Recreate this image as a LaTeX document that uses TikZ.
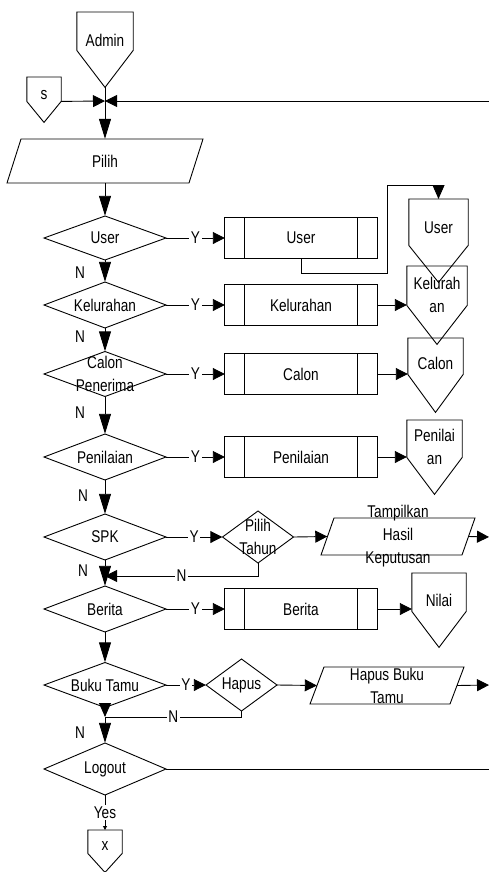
\documentclass[tikz,border=0pt]{standalone}
\usepackage{fontspec}
\setmainfont[FakeStretch=0.8]{Liberation Sans}
\usetikzlibrary{arrows.meta,calc}

% off-page connector: name, centre x, top y, width, box height, tip depth
\newcommand\opgconn[6]{%
  \node[box, minimum width=#4pt, minimum height=#5pt, anchor=north] (#1) at (#2,#3) {};
  \coordinate (#1-tip) at ($(#1.south)+(0,#6)$);
  \draw[ln] (#1.north west) -- (#1.north east) -- (#1.south east) -- (#1-tip) -- (#1.south west) -- cycle;
}
% decision: name, centre x, centre y, width, height, text
\newcommand\decide[6]{%
  \node[box, minimum width=#4pt, minimum height=#5pt, align=center] (#1) at (#2,#3) {#6};
  \draw[ln] ({#2},{#3-#5/2}) -- ({#2+#4/2},{#3}) -- ({#2},{#3+#5/2}) -- ({#2-#4/2},{#3}) -- cycle;
}
% predefined process: name, centre x, centre y, width, height, text
\newcommand\proc[6]{%
  \node[box, minimum width=#4pt, minimum height=#5pt] (#1) at (#2,#3) {#6};
  \draw[ln] (#1.north west) rectangle (#1.south east);
  \draw[ln] ($(#1.north west)+(20,0)$) -- ($(#1.south west)+(20,0)$);
  \draw[ln] ($(#1.north east)+(-20,0)$) -- ($(#1.south east)+(-20,0)$);
}
% input/output: name, centre x, centre y, mid width, height, half slant, text
\newcommand\dataio[7]{%
  \node[box, minimum width=#4pt, minimum height=#5pt, align=center] (#1) at (#2,#3) {#7};
  \draw[ln] ({#2-#4/2+#6},{#3-#5/2}) -- ({#2+#4/2+#6},{#3-#5/2}) -- ({#2+#4/2-#6},{#3+#5/2}) -- ({#2-#4/2-#6},{#3+#5/2}) -- cycle;
}

\begin{document}
\begin{tikzpicture}[x=1pt,y=-1pt,
  every node/.style={font=\fontsize{17}{23}\selectfont, inner sep=0pt},
  ln/.style={line width=0.9pt, draw=black},
  box/.style={rectangle, draw=none, inner sep=0pt},
  varr/.style={ln, -{Triangle[length=20pt,width=12pt]}},
  vshort/.style={ln, -{Triangle[length=14pt,width=12pt]}},
  harr/.style={ln, -{Triangle[length=12pt,width=12pt]}},
  tag/.style={fill=white, inner sep=1.5pt},
]
\useasboundingbox (0,0) rectangle (489,872);

% start
\opgconn{admin}{105}{12}{56}{38}{37}
\node at (105,40) {Admin};
\opgconn{s}{44}{77}{34}{24}{21}
\node at (44,95) {s};
\coordinate (J) at (105,101);
\coordinate (ret) at (489,101);
\draw[ln] (admin-tip) -- (J);
\draw[harr] (s.south east) -- (J);
\draw[harr] (ret) -- (J);

\dataio{pilih}{105}{161}{182}{44}{7}{Pilih}
\draw[varr] (J) -- (pilih.north);

% User
\decide{dUser}{105}{238}{122}{44}{User}
\draw[varr] (pilih.south) -- (dUser.north);
\proc{pUser}{301}{238}{152}{41}{User}
\draw[harr] (dUser.east) -- node[tag]{Y} (pUser.west);
\opgconn{oUser}{438.5}{199}{59}{46}{37}
\node at (438.5,228) {User};
\draw[vshort] (pUser.south) |- (387,273) |- (438.5,185) -- (oUser.north);

% Kelurahan
\decide{dKel}{105}{305}{122}{46}{Kelurahan}
\draw[varr] (dUser.south) -- (dKel.north);
\node at (80,273) {N};
\proc{pKel}{301}{305}{152}{41}{Kelurahan}
\draw[harr] (dKel.east) -- node[tag]{Y} (pKel.west);
\opgconn{oKel}{437}{266}{60}{39}{39}
\node[align=center] at (437,295) {Kelurah\\an};
\draw[harr] (pKel.east) -- (oKel.west |- pKel.east);

% Calon penerima
\decide{dCal}{105}{374}{122}{45}{Calon\\Penerima}
\draw[varr] (dKel.south) -- (dCal.north);
\node at (80,337) {N};
\proc{pCal}{301}{374}{152}{40}{Calon}
\draw[harr] (dCal.east) -- node[tag]{Y} (pCal.west);
\opgconn{oCal}{435.5}{338}{55}{36}{38}
\node at (435.5,363) {Calon};
\draw[harr] (pCal.east) -- (oCal.west |- pCal.east);

% Penilaian
\decide{dPen}{105}{457}{122}{46}{Penilaian}
\draw[varr] (dCal.south) -- (dPen.north);
\node at (80,413) {N};
\proc{pPen}{301}{457}{152}{40}{Penilaian}
\draw[harr] (dPen.east) -- node[tag]{Y} (pPen.west);
\opgconn{oPen}{434.5}{420}{55}{37}{37}
\node[align=center] at (434.5,447) {Penilai\\an};
\draw[harr] (pPen.east) -- (oPen.west |- pPen.east);

% SPK
\decide{dSPK}{105}{537}{122}{46}{SPK}
\draw[varr] (dPen.south) -- (dSPK.north);
\node at (83,496) {N};
\decide{dTahun}{258}{537}{71}{52}{Pilih\\Tahun}
\draw[harr] (dSPK.east) -- node[tag]{Y} (dTahun.west);
\dataio{tampil}{398}{536.5}{141}{37}{6.5}{Tampilkan\\Hasil\\Keputusan}
\draw[harr] (dTahun.east) -- (tampil.west);
\coordinate (outT) at (489,537);
\draw[harr] (tampil.east) -- (outT);
\coordinate (J2) at (105,576);
\draw[harr] (dTahun.south) |- node[tag,pos=0.75]{N} (J2);
\node at (83,571) {N};

% Berita
\decide{dBer}{105}{609}{122}{46}{Berita}
\draw[varr] (dSPK.south) -- (dBer.north);
\proc{pBer}{301}{609}{152}{40}{Berita}
\draw[harr] (dBer.east) -- node[tag]{Y} (pBer.west);
\opgconn{oNil}{439}{573}{54}{38}{36}
\node at (439,600) {Nilai};
\draw[harr] (pBer.east) -- (oNil.west |- pBer.east);

% Buku tamu
\decide{dBuku}{105}{685}{122}{45}{Buku Tamu}
\draw[varr] (dBer.south) -- (dBuku.north);
\decide{dHapus}{241.5}{685}{71}{52}{Hapus}
\draw[harr] (dBuku.east) -- node[tag]{Y} (dHapus.west);
\dataio{hbt}{387}{685.5}{140}{37}{7}{Hapus Buku\\Tamu}
\draw[harr] (dHapus.east) -- (hbt.west);
\coordinate (outH) at (489,685);
\draw[harr] (hbt.east) -- (outH);
\coordinate (K) at (105,717);
\draw[vshort] (dBuku.south) -- (K);
\draw[ln] (dHapus.south) |- node[tag,pos=0.75]{N} (K);

% Logout
\decide{dOut}{105}{769}{122}{52}{Logout}
\draw[varr] (K) -- (dOut.north);
\node at (80,733) {N};
\coordinate (outL) at (489,769);
\draw[ln] (dOut.east) -- (outL);
\opgconn{xEnd}{105}{830}{34}{23}{19}
\node at (105,846) {x};
\draw[ln, -{Triangle[length=4pt,width=4pt]}] (dOut.south) -- node[tag]{Yes} (xEnd.north);
\end{tikzpicture}
\end{document}
